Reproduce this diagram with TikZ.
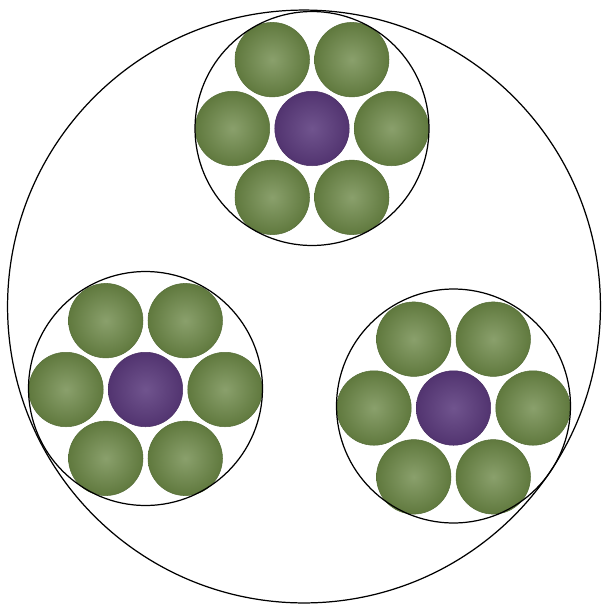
\documentclass[tikz,border=0pt]{standalone}
\usepackage{xcolor}
\usepackage{tikz}
\usetikzlibrary{calc}

\definecolor{wireout}{RGB}{96,121,62}
\definecolor{wirein}{RGB}{138,160,108}
\definecolor{wireedge}{RGB}{86,110,56}
\definecolor{coreout}{RGB}{82,52,112}
\definecolor{corein}{RGB}{112,84,142}
\definecolor{coreedge}{RGB}{74,46,100}

\begin{document}
\begin{tikzpicture}[
    x=0.02cm, y=-0.02cm,
    jacket/.style={circle, draw, line width=0.7pt, inner sep=0pt, minimum size=11.86cm},
    strand/.style={circle, draw, line width=0.7pt, inner sep=0pt, minimum size=4.68cm},
    wire/.style={circle, inner sep=0pt, minimum size=1.49cm, draw=wireedge,
                 line width=0.3pt, inner color=wirein, outer color=wireout},
    core/.style={wire, draw=coreedge, inner color=corein, outer color=coreout}
]
\useasboundingbox (0,0) rectangle (603,606);

% Wires: one core and six outer wires per strand
\foreach \name/\cx/\cy in {top/312/128.5, left/145.5/389.5, right/453.5/408}{
  \node[core] (\name-core) at (\cx,\cy) {};
  \foreach \a in {0,60,...,300}
    \node[wire] (\name-\a) at ($(\name-core)+(\a:79.5)$) {};
}

% Strand outlines
\node[strand] (top)   at (312,128.5) {};
\node[strand] (left)  at (145.5,388.5) {};
\node[strand] (right) at (453.5,406) {};

% Outer jacket
\node[jacket] (cable) at (304,306.5) {};
\end{tikzpicture}
\end{document}
